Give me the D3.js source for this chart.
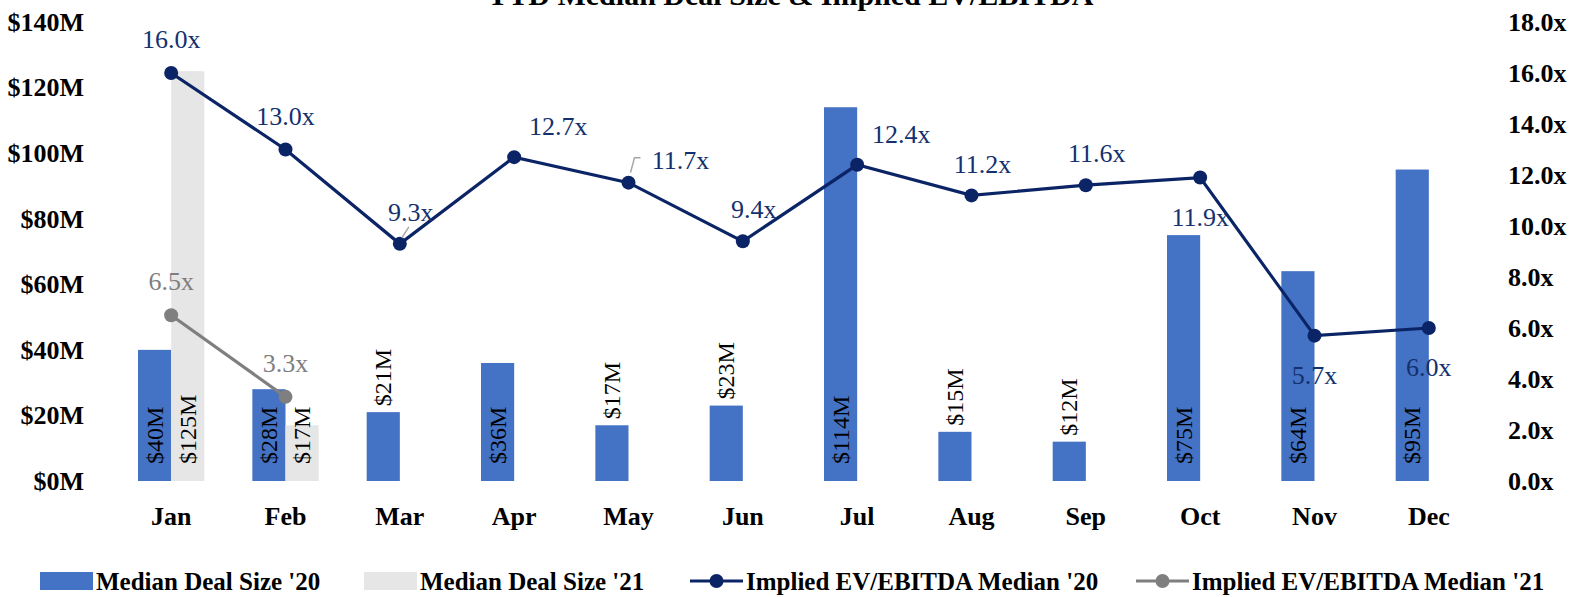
<!DOCTYPE html>
<html>
<head>
<meta charset="utf-8">
<script src="https://cdn.jsdelivr.net/npm/d3@7"></script>
<style>
  body { margin: 0; background: #fff; }
  svg text { font-family: "Liberation Serif", "Times New Roman", serif; }
</style>
</head>
<body>
<div id="chart"></div>
<script>
// chart data
const months = ['Jan', 'Feb', 'Mar', 'Apr', 'May', 'Jun', 'Jul', 'Aug', 'Sep', 'Oct', 'Nov', 'Dec'];
const dealSize20 = [40, 28, 21, 36, 17, 23, 114, 15, 12, 75, 64, 95];
const dealSize21 = [125, 17];
const evEbitda20 = [16.0, 13.0, 9.3, 12.7, 11.7, 9.4, 12.4, 11.2, 11.6, 11.9, 5.7, 6.0];
const evEbitda21 = [6.5, 3.3];
const leftTicks = [0, 20, 40, 60, 80, 100, 120, 140];
const rightTicks = [0, 2, 4, 6, 8, 10, 12, 14, 16, 18];
// where each '20 multiple label sits relative to its point
const ev20LabelPlace = ['above', 'above', 'aboveShift', 'aboveRight', 'right', 'aboveShift',
    'aboveRight', 'aboveShift', 'aboveShift', 'below', 'below', 'below'];
const ev21LabelPlace = ['above', 'above'];

const width = 1576, height = 597;
const margin = {top: 22, right: 90, bottom: 116, left: 114};
const innerW = width - margin.left - margin.right;
const innerH = height - margin.top - margin.bottom;

const blue = '#4472c4', lightGray = '#e7e6e6', navy = '#0a2466', gray = '#7f7f7f';

const svg = d3.select('#chart').append('svg')
    .attr('width', width)
    .attr('height', height);

// title (partly cut off at the top, like the original)
svg.append('text')
    .attr('x', 790)
    .attr('y', 5)
    .attr('text-anchor', 'middle')
    .style('font-size', '30px')
    .style('font-weight', 'bold')
    .text('YTD Median Deal Size & Implied EV/EBITDA');

const g = svg.append('g').attr('transform', `translate(${margin.left},${margin.top})`);

const x = d3.scaleBand().domain(months).range([0, innerW]).paddingInner(0.42).paddingOuter(0.21);
const y = d3.scaleLinear().domain([0, 140]).range([innerH, 0]);
const y2 = d3.scaleLinear().domain([0, 18]).range([innerH, 0]);
const barW = x.bandwidth() / 2;
const cx = m => x(m) + x.bandwidth() / 2;

// left axis
const leftAxis = g.append('g')
    .call(d3.axisLeft(y).tickValues(leftTicks).tickSize(0).tickPadding(30).tickFormat(d => `$${d}M`));
leftAxis.select('.domain').remove();
leftAxis.selectAll('text')
    .style('font-family', '"Liberation Serif", serif')
    .style('font-size', '26px').style('font-weight', 'bold').attr('fill', '#000');

// right axis
const rightAxis = g.append('g')
    .attr('transform', `translate(${innerW},0)`)
    .call(d3.axisRight(y2).tickValues(rightTicks).tickSize(0).tickPadding(22).tickFormat(d => `${d.toFixed(1)}x`));
rightAxis.select('.domain').remove();
rightAxis.selectAll('text')
    .style('font-family', '"Liberation Serif", serif')
    .style('font-size', '26px').style('font-weight', 'bold').attr('fill', '#000');

// month axis
const bottomAxis = g.append('g')
    .attr('transform', `translate(0,${innerH})`)
    .call(d3.axisBottom(x).tickSize(0).tickPadding(26));
bottomAxis.select('.domain').remove();
bottomAxis.selectAll('text')
    .style('font-family', '"Liberation Serif", serif')
    .style('font-size', '26px').style('font-weight', 'bold').attr('fill', '#000');

// bars '20 (left slot) and '21 (right slot)
const bars20 = dealSize20.map((v, i) => ({m: months[i], v: v, x: x(months[i])}));
const bars21 = dealSize21.map((v, i) => ({m: months[i], v: v, x: x(months[i]) + barW}));

g.selectAll('.bar20').data(bars20).enter().append('rect')
    .attr('class', 'bar20')
    .attr('x', d => d.x).attr('width', barW)
    .attr('y', d => y(d.v)).attr('height', d => innerH - y(d.v))
    .attr('fill', blue);

g.selectAll('.bar21').data(bars21).enter().append('rect')
    .attr('class', 'bar21')
    .attr('x', d => d.x).attr('width', barW)
    .attr('y', d => y(d.v)).attr('height', d => innerH - y(d.v))
    .attr('fill', lightGray);

// bar labels, rotated; short '20 bars get theirs above the bar
function barLabel(sel, outsideBelow) {
    sel.append('text')
        .attr('transform', d => {
            const px = d.x + barW / 2 + 8;
            const py = d.v < outsideBelow ? y(d.v) - 6 : innerH - 17;
            return `translate(${px},${py}) rotate(-90)`;
        })
        .attr('text-anchor', 'start')
        .style('font-size', '24px')
        .attr('fill', '#000')
        .text(d => `$${d.v}M`);
}
barLabel(g.selectAll('.lab20').data(bars20).enter(), 25);
barLabel(g.selectAll('.lab21').data(bars21).enter(), 0);

// lines
const offsets = {
    above: [0, -34], aboveShift: [11, -32], aboveRight: [44, -31], right: [52, -23], below: [0, 39]
};

function drawLine(values, places, color, labelColor, cls) {
    const pts = values.map((v, i) => ({m: months[i], v: v, place: places[i]}));
    const line = d3.line().x(d => cx(d.m)).y(d => y2(d.v));
    g.append('path').datum(pts)
        .attr('d', line)
        .attr('fill', 'none')
        .attr('stroke', color)
        .attr('stroke-width', 3.2);
    g.selectAll('.dot' + cls).data(pts).enter().append('circle')
        .attr('cx', d => cx(d.m)).attr('cy', d => y2(d.v))
        .attr('r', 7)
        .attr('fill', color);
    g.selectAll('.lbl' + cls).data(pts).enter().append('text')
        .attr('x', d => cx(d.m) + offsets[d.place][0])
        .attr('y', d => y2(d.v) + offsets[d.place][1])
        .attr('dy', '0.35em')
        .attr('text-anchor', 'middle')
        .style('font-size', '26px')
        .attr('fill', labelColor)
        .text(d => `${d.v.toFixed(1)}x`);
    return pts;
}

const pts20 = drawLine(evEbitda20, ev20LabelPlace, navy, '#14306e', '20');
drawLine(evEbitda21, ev21LabelPlace, gray, gray, '21');

// leader lines for the two labels that were dragged off their points
const leaders = [
    [[cx('Mar') + 2, y2(9.3) - 6], [cx('Mar') + 9, y2(9.3) - 17]],
    [[cx('May') + 2, y2(11.7) - 10], [cx('May') + 6, y2(11.7) - 25], [cx('May') + 12, y2(11.7) - 25]]
];
g.selectAll('.leader').data(leaders).enter().append('path')
    .attr('d', d3.line())
    .attr('fill', 'none')
    .attr('stroke', '#a6a6a6')
    .attr('stroke-width', 1.5);

// legend
const legendItems = [
    {label: "Median Deal Size '20", type: 'rect', color: blue, x: 40},
    {label: "Median Deal Size '21", type: 'rect', color: lightGray, x: 364},
    {label: "Implied EV/EBITDA Median '20", type: 'line', color: navy, x: 690},
    {label: "Implied EV/EBITDA Median '21", type: 'line', color: gray, x: 1136}
];
const ly = 581;
const legend = svg.append('g');
legendItems.forEach(it => {
    const lg = legend.append('g').attr('transform', `translate(${it.x},${ly})`);
    if (it.type === 'rect') {
        lg.append('rect').attr('x', 0).attr('y', -9).attr('width', 53).attr('height', 18).attr('fill', it.color);
    } else {
        lg.append('line').attr('x1', 0).attr('x2', 53).attr('y1', 0).attr('y2', 0)
            .attr('stroke', it.color).attr('stroke-width', 3.2);
        lg.append('circle').attr('cx', 26.5).attr('cy', 0).attr('r', 7).attr('fill', it.color);
    }
    lg.append('text')
        .attr('x', 56).attr('y', 0).attr('dy', '0.35em')
        .style('font-size', '25px').style('font-weight', 'bold')
        .attr('fill', '#000')
        .text(it.label);
});
</script>
</body>
</html>
